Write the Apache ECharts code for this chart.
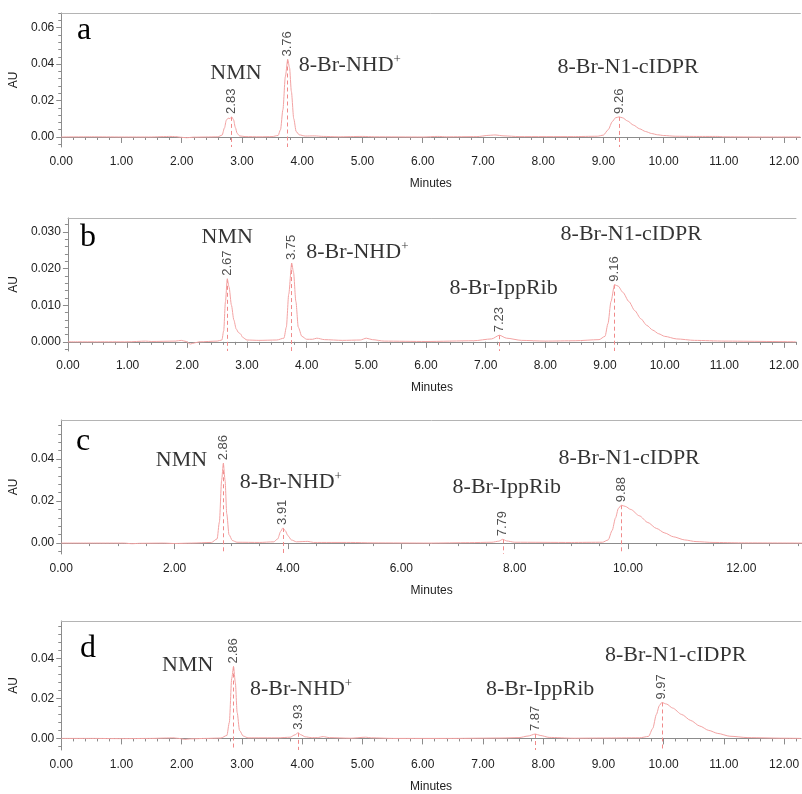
<!DOCTYPE html>
<html><head><meta charset="utf-8">
<script src="https://cdn.jsdelivr.net/npm/echarts@6/dist/echarts.min.js"></script>
<style>html,body{margin:0;padding:0;background:#fff}#c{width:802px;height:794px}</style>
</head><body><div id="c"></div>
<script>
// ---------------- DATA ----------------
const panelLetters = ['a', 'b', 'c', 'd'];

// chromatogram traces: [minutes, AU]
const traceA = [[0,0],[0.5,0.0001],[1.0,0],[1.5,0],[1.7,0.0002],[1.8,0.0003],[1.9,0.0002],[2.0,-0.0002],[2.08,-0.0004],[2.2,-0.0001],[2.4,0],[2.6,0.0001],[2.67,0.001],[2.71,0.005],[2.74,0.0092],[2.77,0.0103],[2.80,0.0101],[2.83,0.011],[2.86,0.0095],[2.89,0.0052],[2.92,0.002],[2.96,0.0006],[3.05,0.0002],[3.3,0.0001],[3.5,0.0002],[3.6,0.0008],[3.64,0.004],[3.68,0.015],[3.72,0.033],[3.76,0.0425],[3.79,0.038],[3.82,0.025],[3.86,0.010],[3.90,0.003],[3.95,0.0012],[4.05,0.0005],[4.2,0.0006],[4.35,0.0003],[4.6,0.0001],[5.0,0.0003],[5.2,0.0001],[6.0,0],[6.25,0.0003],[6.4,0.0001],[6.9,0.0002],[7.1,0.0009],[7.2,0.0011],[7.35,0.0006],[7.6,0.0002],[8.5,0.0002],[8.9,0.0004],[9.0,0.001],[9.08,0.004],[9.15,0.0085],[9.2,0.0105],[9.26,0.011],[9.32,0.0105],[9.4,0.0088],[9.5,0.0065],[9.6,0.0045],[9.7,0.003],[9.8,0.0019],[9.9,0.0012],[10.0,0.0008],[10.2,0.0004],[10.5,0.0003],[10.9,0.0003],[11.0,0.0001],[11.5,0],[12.27,0]];
const traceB = [[0,0],[0.5,0],[1.0,0],[1.3,0.0002],[1.4,0.0001],[1.8,0.0002],[1.9,0.0004],[1.98,0.0001],[2.05,-0.0006],[2.12,-0.0003],[2.2,0],[2.5,0.0002],[2.58,0.0005],[2.61,0.003],[2.64,0.011],[2.67,0.0172],[2.70,0.015],[2.74,0.010],[2.78,0.006],[2.82,0.0035],[2.86,0.0025],[2.89,0.0022],[2.93,0.0012],[3.0,0.0005],[3.2,0.0004],[3.5,0.0005],[3.62,0.001],[3.66,0.004],[3.70,0.013],[3.75,0.0215],[3.78,0.019],[3.82,0.011],[3.86,0.004],[3.92,0.0015],[4.0,0.0007],[4.1,0.0007],[4.17,0.0010],[4.3,0.0006],[4.6,0.0004],[4.9,0.0005],[5.0,0.001],[5.1,0.0006],[5.3,0.0002],[6.0,0.0001],[6.8,0.0003],[7.1,0.0008],[7.23,0.0018],[7.35,0.0010],[7.6,0.0004],[8.0,0.0002],[8.5,0.0003],[8.9,0.0006],[9.0,0.0015],[9.05,0.005],[9.1,0.011],[9.16,0.0156],[9.22,0.0152],[9.3,0.0135],[9.4,0.011],[9.5,0.0085],[9.6,0.0063],[9.7,0.0045],[9.8,0.0032],[9.9,0.0022],[10.0,0.0015],[10.2,0.0008],[10.5,0.0004],[11.0,0.0002],[12.2,0]];
const traceC = [[0,0],[0.6,0],[1.1,0],[1.25,-0.0003],[1.4,-0.0001],[1.8,0],[2.0,-0.0002],[2.3,0],[2.65,0.0003],[2.75,0.002],[2.79,0.01],[2.83,0.03],[2.86,0.038],[2.89,0.03],[2.92,0.014],[2.96,0.004],[3.02,0.0012],[3.1,0.0004],[3.5,0.0003],[3.75,0.0006],[3.82,0.002],[3.87,0.0055],[3.91,0.0072],[3.95,0.006],[4.0,0.0035],[4.06,0.0015],[4.15,0.0006],[4.35,0.0008],[4.45,0.0003],[5.1,0.0003],[5.5,0.0001],[6.5,0],[7.2,0.0002],[7.6,0.0004],[7.72,0.0009],[7.79,0.0018],[7.86,0.0010],[8.0,0.0004],[9.0,0.0003],[9.55,0.0004],[9.65,0.0015],[9.72,0.006],[9.78,0.012],[9.83,0.0165],[9.88,0.018],[9.95,0.0175],[10.05,0.016],[10.2,0.013],[10.35,0.0098],[10.5,0.007],[10.65,0.0048],[10.8,0.003],[11.0,0.0015],[11.2,0.0007],[11.5,0.0003],[12.0,0.0001],[13.07,0]];
const traceD = [[0,0],[0.5,0],[1.0,-0.0001],[1.5,0],[1.75,0.0002],[1.85,0.0003],[1.95,0],[2.05,-0.0005],[2.15,-0.0002],[2.4,0],[2.65,0.0002],[2.75,0.0015],[2.79,0.008],[2.83,0.03],[2.86,0.036],[2.89,0.028],[2.92,0.013],[2.96,0.004],[3.02,0.0012],[3.1,0.0003],[3.6,0.0003],[3.8,0.0006],[3.88,0.0018],[3.93,0.0028],[3.98,0.0018],[4.05,0.0008],[4.15,0.0004],[4.25,0.0004],[4.35,0.0009],[4.45,0.0004],[4.8,0.0001],[5.05,0.0006],[5.15,0.0003],[5.5,0],[6.5,0],[7.3,0.0002],[7.6,0.0004],[7.75,0.0012],[7.87,0.0022],[7.95,0.0015],[8.1,0.0005],[8.5,0.0001],[9.0,0.0002],[9.6,0.0003],[9.75,0.001],[9.82,0.005],[9.88,0.012],[9.93,0.0165],[9.97,0.018],[10.05,0.0172],[10.15,0.0152],[10.3,0.012],[10.45,0.009],[10.6,0.0062],[10.75,0.004],[10.9,0.0025],[11.1,0.0011],[11.4,0.0004],[12.0,0.0001],[12.28,0]];

// retention-time labels and apex heights
const rtA = [2.83, 3.76, 9.26];           const apexA = [0.011, 0.0425, 0.011];
const rtB = [2.67, 3.75, 7.23, 9.16];     const apexB = [0.0172, 0.0215, 0.0018, 0.0156];
const rtC = [2.86, 3.91, 7.79, 9.88];     const apexC = [0.038, 0.0072, 0.0018, 0.018];
const rtD = [2.86, 3.93, 7.87, 9.97];     const apexD = [0.036, 0.0028, 0.0022, 0.018];

// compound names and their anchors (minutes, AU)
const namesA = ['NMN', '8-Br-NHD+', '8-Br-N1-cIDPR'];
const nameAtA = [[2.90, 0.035], [4.79, 0.0395], [9.41, 0.038]];
const namesB = ['NMN', '8-Br-NHD+', '8-Br-IppRib', '8-Br-N1-cIDPR'];
const nameAtB = [[2.67, 0.0286], [4.85, 0.0245], [7.30, 0.0147], [9.44, 0.0294]];
const namesC = ['NMN', '8-Br-NHD+', '8-Br-IppRib', '8-Br-N1-cIDPR'];
const nameAtC = [[2.12, 0.0395], [4.05, 0.029], [7.86, 0.0267], [10.02, 0.0405]];
const namesD = ['NMN', '8-Br-NHD+', '8-Br-IppRib', '8-Br-N1-cIDPR'];
const nameAtD = [[2.10, 0.0366], [3.98, 0.0246], [7.95, 0.0246], [10.20, 0.0415]];

// axis ranges and ticks
const xRangeA = [0, 12.27], xRangeB = [0, 12.2], xRangeC = [0, 13.07], xRangeD = [0, 12.28];
const yRangeA = [-0.0055, 0.068], yRangeB = [-0.0025, 0.0338], yRangeC = [-0.0052, 0.0586], yRangeD = [-0.0058, 0.0588];
const xTicks12 = [0,1,2,3,4,5,6,7,8,9,10,11,12];
const xTicks13 = [0,2,4,6,8,10,12];
const xMinorStep12 = 0.2, xMinorStep13 = 0.5;
const yTicksA = [0, 0.02, 0.04, 0.06];
const yTicksB = [0, 0.010, 0.020, 0.030];
const yTicksC = [0, 0.02, 0.04];
const yTicksD = [0, 0.02, 0.04];
const yMinorStepA = 0.004, yMinorStepB = 0.002, yMinorStepC = 0.004, yMinorStepD = 0.004;
const yDecimals = [2, 3, 2, 2];
const xAxisName = 'Minutes', yAxisName = 'AU';

// ---------------- LAYOUT / STYLE ----------------
const panels = [
  {trace: traceA, rt: rtA, apex: apexA, names: namesA, nameAt: nameAtA, xr: xRangeA, yr: yRangeA, xt: xTicks12, xm: xMinorStep12, yt: yTicksA, ym: yMinorStepA},
  {trace: traceB, rt: rtB, apex: apexB, names: namesB, nameAt: nameAtB, xr: xRangeB, yr: yRangeB, xt: xTicks12, xm: xMinorStep12, yt: yTicksB, ym: yMinorStepB},
  {trace: traceC, rt: rtC, apex: apexC, names: namesC, nameAt: nameAtC, xr: xRangeC, yr: yRangeC, xt: xTicks13, xm: xMinorStep13, yt: yTicksC, ym: yMinorStepC},
  {trace: traceD, rt: rtD, apex: apexD, names: namesD, nameAt: nameAtD, xr: xRangeD, yr: yRangeD, xt: xTicks12, xm: xMinorStep12, yt: yTicksD, ym: yMinorStepD}
];
const gridBoxes = [
  {left: 57, top: 13, height: 134},
  {left: 65, top: 218, height: 133},
  {left: 57, top: 420, height: 134},
  {left: 57, top: 621, height: 134}
];
const letterPos = [[77, 45], [80, 252], [76, 456], [80, 663]];
const LINE = '#f3a3a3';
const DASH = '#f08a8a';
const AXIS = '#8c8c8c';
const SANS = 'Liberation Sans';
const SERIF = 'Liberation Serif';

function minorValues(r, step) {
  const out = [];
  const start = Math.ceil(r[0] / step - 1e-9);
  for (let k = start; k * step <= r[1] + 1e-9; k++) out.push(+(k * step).toFixed(6));
  return out;
}

const grid = [], xAxis = [], yAxis = [], series = [];
panels.forEach((p, i) => {
  const g = gridBoxes[i];
  grid.push({left: g.left, top: g.top, height: g.height, right: 0, containLabel: false});
});
// major x axes (0..3)
panels.forEach((p, i) => {
  xAxis.push({
    type: 'value', gridIndex: i, min: p.xr[0], max: p.xr[1], position: 'bottom',
    name: xAxisName, nameLocation: 'middle', nameGap: 31,
    nameTextStyle: {fontFamily: SANS, fontSize: 12, color: '#222'},
    axisLine: {show: true, lineStyle: {color: AXIS, width: 1}},
    axisTick: {show: true, length: 6, inside: false, customValues: p.xt, lineStyle: {color: AXIS}},
    axisLabel: {show: true, customValues: p.xt, margin: 9, fontFamily: SANS, fontSize: 12, color: '#222',
      formatter: v => v.toFixed(2)},
    splitLine: {show: false}
  });
});
// minor x axes (4..7)
panels.forEach((p, i) => {
  xAxis.push({
    type: 'value', gridIndex: i, min: p.xr[0], max: p.xr[1], position: 'bottom',
    axisLine: {show: false},
    axisTick: {show: true, length: 3, customValues: minorValues(p.xr, p.xm), lineStyle: {color: AXIS}},
    axisLabel: {show: false}, splitLine: {show: false}
  });
});
// top frame axes (8..11)
panels.forEach((p, i) => {
  xAxis.push({
    type: 'value', gridIndex: i, min: p.xr[0], max: p.xr[1], position: 'top',
    axisLine: {show: true, lineStyle: {color: '#b4b4b4', width: 1}},
    axisTick: {show: false}, axisLabel: {show: false}, splitLine: {show: false}
  });
});
// major y axes (0..3)
panels.forEach((p, i) => {
  yAxis.push({
    type: 'value', gridIndex: i, min: p.yr[0], max: p.yr[1],
    name: yAxisName, nameLocation: 'middle', nameRotate: 90, nameGap: gridBoxes[i].left - 22,
    nameTextStyle: {fontFamily: SANS, fontSize: 12, color: '#222'},
    axisLine: {show: true, lineStyle: {color: AXIS, width: 1}},
    axisTick: {show: true, length: 5, customValues: p.yt, lineStyle: {color: AXIS}},
    axisLabel: {show: true, customValues: p.yt, margin: 7, fontFamily: SANS, fontSize: 12, color: '#222',
      formatter: v => v.toFixed(yDecimals[i])},
    splitLine: {show: false}
  });
});
// minor y axes (4..7)
panels.forEach((p, i) => {
  yAxis.push({
    type: 'value', gridIndex: i, min: p.yr[0], max: p.yr[1], position: 'left',
    axisLine: {show: false},
    axisTick: {show: true, length: 3, customValues: minorValues(p.yr, p.ym), lineStyle: {color: AXIS}},
    axisLabel: {show: false}, splitLine: {show: false}
  });
});

panels.forEach((p, i) => {
  // dashed drop lines from each apex to the axis
  series.push({
    type: 'lines', coordinateSystem: 'cartesian2d', xAxisIndex: i, yAxisIndex: i,
    polyline: false, silent: true, z: 1,
    lineStyle: {color: DASH, type: [4, 3], width: 1, opacity: 1, curveness: 0},
    data: p.rt.map((t, k) => ({coords: [[t, p.apex[k]], [t, p.yr[0]]]}))
  });
  // trace
  series.push({
    type: 'line', xAxisIndex: i, yAxisIndex: i, data: p.trace,
    showSymbol: false, symbol: 'none', smooth: 0.25, smoothMonotone: 'x',
    lineStyle: {color: LINE, width: 1}, itemStyle: {color: LINE}, silent: true, z: 2
  });
  // retention time labels
  series.push({
    type: 'scatter', xAxisIndex: i, yAxisIndex: i, symbolSize: 0, silent: true,
    itemStyle: {color: DASH},
    data: p.rt.map((t, k) => [t, p.apex[k]]),
    label: {show: true, position: 'top', distance: 3, rotate: 90, align: 'left', verticalAlign: 'middle',
      fontFamily: SANS, fontSize: 13, color: '#222',
      formatter: d => p.rt[d.dataIndex].toFixed(2)},
    z: 3
  });
  // compound names
  series.push({
    type: 'scatter', xAxisIndex: i, yAxisIndex: i, symbolSize: 0, silent: true,
    data: p.nameAt,
    label: {show: true, position: 'inside',
      formatter: d => {
        const s = p.names[d.dataIndex];
        return s.endsWith('+') ? '{n|' + s.slice(0, -1) + '}{s|+}' : '{n|' + s + '}';
      },
      rich: {
        n: {fontFamily: SERIF, fontSize: 22, color: '#000', lineHeight: 24},
        s: {fontFamily: SERIF, fontSize: 13, color: '#000', verticalAlign: 'top', lineHeight: 24, padding: [0, 0, 10, 0]}
      }
    },
    z: 4
  });
});

const graphic = panelLetters.map((L, i) => ({
  type: 'text', left: letterPos[i][0], top: letterPos[i][1] - 30,
  style: {text: L, font: '32px "Liberation Serif"', fill: '#000'}
}));

const chart = echarts.init(document.getElementById('c'), null, {renderer: 'canvas'});
chart.setOption({
  animation: false, backgroundColor: '#fff',
  grid, xAxis, yAxis, series, graphic
});
</script>
</body></html>
